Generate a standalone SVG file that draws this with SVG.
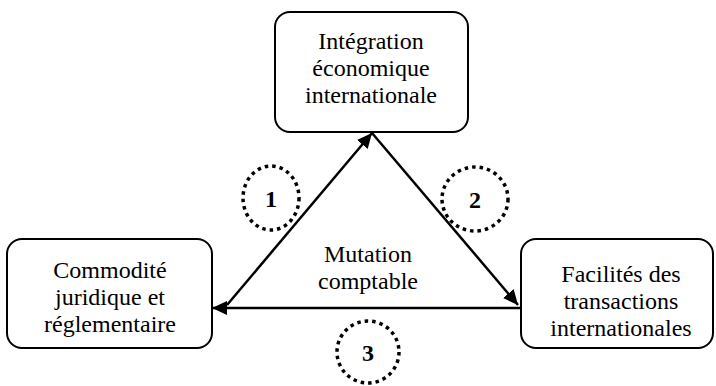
<svg xmlns="http://www.w3.org/2000/svg" width="716" height="386" viewBox="0 0 716 386">
<defs>
<style>
.box{fill:#fff;stroke:#000;stroke-width:2}
text{font-family:'Liberation Serif','DejaVu Serif',serif;fill:#000;text-anchor:middle}
.t{font-size:24px}
.n{font-size:24px;font-weight:bold}
.ln{stroke:#000;stroke-width:2.5;fill:none;marker-end:url(#ah)}
.dot{fill:none;stroke:#000;stroke-width:3.5;stroke-dasharray:3.5 4}
</style>
<marker id="ah" markerUnits="userSpaceOnUse" markerWidth="16" markerHeight="16" refX="15" refY="7" orient="auto">
<path d="M0,0 L15,7 L0,14 Z" fill="#000"/>
</marker>
</defs>
<rect width="716" height="386" fill="#fff"/>
<g id="connectors">
<line class="ln" x1="227" y1="305" x2="372" y2="133"/>
<line class="ln" x1="372" y1="133" x2="518" y2="305"/>
<line class="ln" x1="521" y1="308" x2="212" y2="308"/>
</g>
<g id="top">
<rect class="box" x="275" y="12" width="193" height="120" rx="15"/>
<text class="t" font-family="Liberation Serif" x="371" y="49">Intégration</text>
<text class="t" font-family="Liberation Serif" x="371" y="76">économique</text>
<text class="t" font-family="Liberation Serif" x="371" y="103">internationale</text>
</g>
<g id="left">
<rect class="box" x="7" y="239" width="205" height="109" rx="15"/>
<text class="t" font-family="Liberation Serif" x="110" y="278">Commodité</text>
<text class="t" font-family="Liberation Serif" x="110" y="305">juridique et</text>
<text class="t" font-family="Liberation Serif" x="110" y="332">réglementaire</text>
</g>
<g id="right">
<rect class="box" x="521" y="239" width="192" height="109" rx="15"/>
<text class="t" font-family="Liberation Serif" x="621" y="282">Facilités des</text>
<text class="t" font-family="Liberation Serif" x="621" y="309">transactions</text>
<text class="t" font-family="Liberation Serif" x="621" y="336">internationales</text>
</g>
<g id="center">
<text class="t" font-family="Liberation Serif" x="368" y="262">Mutation</text>
<text class="t" font-family="Liberation Serif" x="368" y="289">comptable</text>
</g>
<g id="c1">
<ellipse class="dot" cx="271" cy="198" rx="28" ry="32"/>
<text class="n" font-family="Liberation Serif" x="271" y="207">1</text>
</g>
<g id="c2">
<ellipse class="dot" cx="475" cy="199" rx="33" ry="32"/>
<text class="n" font-family="Liberation Serif" x="475" y="208">2</text>
</g>
<g id="c3">
<ellipse class="dot" cx="368" cy="352" rx="31" ry="31"/>
<text class="n" font-family="Liberation Serif" x="368" y="361">3</text>
</g>
</svg>
